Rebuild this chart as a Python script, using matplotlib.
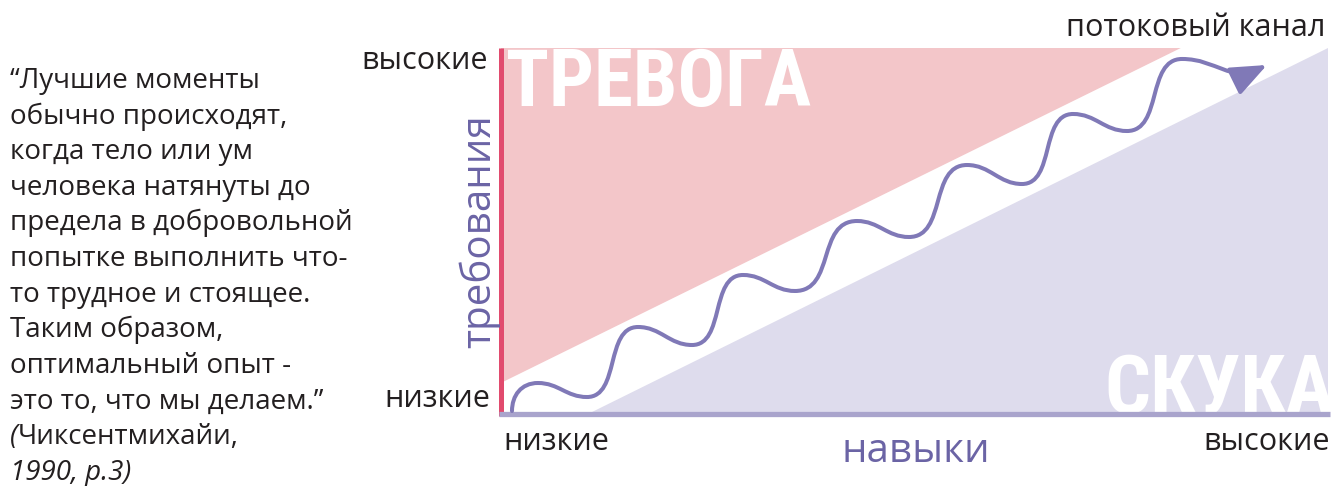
import matplotlib
matplotlib.use('Agg')
import matplotlib.pyplot as plt
from matplotlib.path import Path
from matplotlib.patches import Polygon, FancyArrowPatch
from matplotlib import font_manager

W, H = 1333, 486

# Зоны графика в координатах (навыки 0..100, требования 0..100)
anxiety_x = [0, 82.2, 0]
anxiety_y = [100, 100, 8.5]
boredom_x = [10.5, 100, 100]
boredom_y = [0, 0, 100]

# Опорные точки волны: старт, пики/впадины, последняя - острие стрелки
wave_x = [1.33, 4.47, 10.40, 16.57, 23.10, 29.26, 35.55, 43.05,
          49.33, 56.35, 63.00, 69.17, 75.69, 82.35, 92.62]
wave_y = [0.82, 8.47, 4.64, 23.77, 18.85, 37.98, 33.61, 52.73,
          48.36, 68.03, 62.84, 81.97, 77.32, 97.0, 95.36]

quote_lines = [
    "“Лучшие моменты",
    "обычно происходят,",
    "когда тело или ум",
    "человека натянуты до",
    "предела в добровольной",
    "попытке выполнить что-",
    "то трудное и стоящее.",
    "Таким образом,",
    "оптимальный опыт -",
    "это то, что мы делаем.”",
]
cite_open = "("
cite_name = "Чиксентмихайи,"
cite_year = "1990, p.3)"

y_low, y_high = "низкие", "высокие"
x_low, x_high = "низкие", "высокие"
x_title = "навыки"
y_title = "требования"
channel_label = "потоковый канал"
anxiety_label = "ТРЕВОГА"
boredom_label = "СКУКА"

pink = '#f3c6c9'
lav = '#dedced'
red = '#e14b6e'
base_lav = '#a9a4cc'
wave_c = '#8079b7'
purple = '#6b64a5'
dark = '#231f20'

names = {f.name for f in font_manager.fontManager.ttflist}
big_font = 'DejaVu Sans'
for cand in ['Roboto Condensed', 'Open Sans Condensed', 'Liberation Sans Narrow']:
    if cand in names:
        big_font = cand
        break
txt_font = 'Open Sans' if 'Open Sans' in names else 'DejaVu Sans'


def fx(x):
    return x / W


def fy(y):
    return 1 - y / H


fig = plt.figure(figsize=(W / 100, H / 100), dpi=100)
ax = fig.add_axes([fx(501), fy(414), 827 / W, 366 / H])
ax.set_xlim(0, 100)
ax.set_ylim(0, 100)
ax.axis('off')

ax.add_patch(Polygon(list(zip(anxiety_x, anxiety_y)), closed=True,
                     facecolor=pink, edgecolor='none', zorder=1))
ax.add_patch(Polygon(list(zip(boredom_x, boredom_y)), closed=True,
                     facecolor=lav, edgecolor='none', zorder=1))

# оси
ax.plot([0, 0], [-0.6, 100], color=red, lw=3.6, clip_on=False,
        solid_capstyle='butt', zorder=4)
ax.plot([-0.3, 100.3], [-0.1, -0.1], color=base_lav, lw=3.8, clip_on=False,
        solid_capstyle='butt', zorder=5)

# волна
verts = [(wave_x[0], wave_y[0])]
codes = [Path.MOVETO]
n = len(wave_x)
for i in range(1, n):
    x0, y0 = wave_x[i - 1], wave_y[i - 1]
    x1, y1 = wave_x[i], wave_y[i]
    dx = x1 - x0
    k = 0.65 if y1 > y0 else 0.42
    if i == 1:
        c1 = (x0, y0 + 0.55 * (y1 - y0))
    else:
        c1 = (x0 + k * dx, y0)
    if i == n - 1:
        c2 = (x1 - 0.45 * dx, y1 - 0.45 * dx * 1.11)
    else:
        c2 = (x1 - k * dx, y1)
    verts += [c1, c2, (x1, y1)]
    codes += [Path.CURVE4] * 3

arrow = FancyArrowPatch(path=Path(verts, codes),
                        arrowstyle='-|>,head_length=1.1,head_width=0.45',
                        mutation_scale=20, color=wave_c, lw=2.9,
                        clip_on=False, zorder=6)
ax.add_patch(arrow)

# большие белые слова (поверх заливки, под базовой линией)
r = fig.canvas.get_renderer()
big = dict(color='white', fontsize=60, family=big_font, weight='bold',
           va='baseline', transform=fig.transFigure, zorder=2, clip_on=False)
t1 = ax.text(fx(506), fy(117), anxiety_label, ha='left', **big)
t2 = ax.text(fx(1335), fy(413), boredom_label, ha='right', **big)
for t, tw in [(t1, 305), (t2, 230)]:
    w = t.get_window_extent(r).width
    t.set_fontsize(t.get_fontsize() * tw / w)
# верх букв ТРЕВОГА у верхней границы зоны
t1.set_y(fy(50 + 0.99 * t1.get_fontsize()))

# подписи осей
lab = dict(color=dark, family=txt_font, fontsize=22, va='baseline')
fig.text(fx(488), fy(69), y_high, ha='right', **lab)
fig.text(fx(490), fy(407), y_low, ha='right', **lab)
fig.text(fx(503), fy(450), x_low, ha='left', **lab)
fig.text(fx(1330), fy(450), x_high, ha='right', **lab)
fig.text(fx(1325), fy(36), channel_label, ha='right', **lab)

fig.text(fx(916), fy(462), x_title, color=purple, family=txt_font,
         fontsize=29, ha='center', va='baseline')
fig.text(fx(490), fy(231), y_title, color=purple, family=txt_font,
         fontsize=29, ha='center', va='baseline', rotation=90,
         rotation_mode='anchor')

# цитата
qs = 20
for i, line in enumerate(quote_lines):
    fig.text(fx(10), fy(88 + i * 35.6), line, color=dark, family=txt_font,
             fontsize=qs, ha='left', va='baseline')
c1t = fig.text(fx(10), fy(88 + 10 * 35.6), cite_open, color=dark,
               family=txt_font, fontsize=qs, style='italic',
               ha='left', va='baseline')
fig.canvas.draw()
cx = c1t.get_window_extent(r).x1
fig.text(cx / W, fy(88 + 10 * 35.6), cite_name, color=dark, family=txt_font,
         fontsize=qs, ha='left', va='baseline')
fig.text(fx(10), fy(88 + 11 * 35.6), cite_year, color=dark, family=txt_font,
         fontsize=qs, style='italic', ha='left', va='baseline')

fig.savefig('out.png', dpi=100)
